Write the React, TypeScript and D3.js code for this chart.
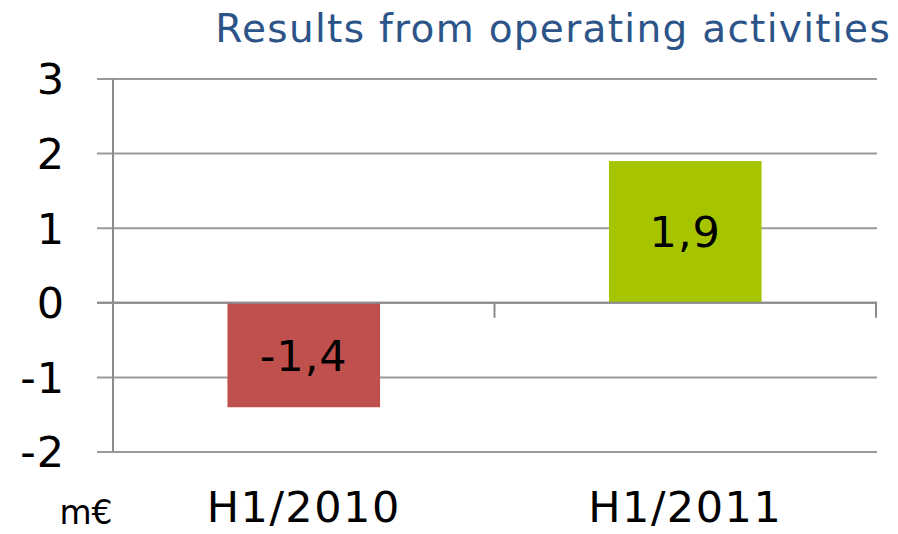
import React from "react";
import * as d3 from "d3";

const categories = ["H1/2010", "H1/2011"];
const values = [-1.4, 1.9];
const valueLabels = ["-1,4", "1,9"];
const barColors = ["#C0504D", "#A6C400"];
const yTicks = [-2, -1, 0, 1, 2, 3];
const title = "Results from operating activities";
const unitLabel = "m€";

const W = 898;
const H = 534;
const FONT = "'DejaVu Sans', Verdana, sans-serif";

export default function App() {
  const left = 113;
  const right = 876;
  const top = 79;
  const bottom = 452;

  const y = d3.scaleLinear().domain([-2, 3]).range([bottom, top]);
  const x = d3
    .scaleBand<string>()
    .domain(categories)
    .range([left, right])
    .paddingInner(0.6)
    .paddingOuter(0.3);
  const step = x.step();
  const y0 = y(0);

  return (
    <svg
      width={W}
      height={H}
      style={{ position: "absolute", left: 0, top: 0, background: "#fff" }}
    >
      <text
        x={891}
        y={42}
        textAnchor="end"
        fontFamily={FONT}
        fontSize={39}
        letterSpacing={1.3}
        fill="#2C5488"
      >
        {title}
      </text>

      {yTicks.map((t) => (
        <line
          key={"g" + t}
          x1={97}
          x2={877}
          y1={y(t)}
          y2={y(t)}
          stroke="#9a9a9a"
          strokeWidth={2}
        />
      ))}

      {categories.map((c, i) => {
        const v = values[i];
        const bx = x(c) as number;
        const by = Math.min(y(v), y0);
        const bh = Math.abs(y(v) - y0);
        return (
          <g key={c}>
            <rect x={bx} y={by} width={x.bandwidth()} height={bh} fill={barColors[i]} />
            <text
              x={bx + x.bandwidth() / 2}
              y={by + bh / 2}
              dy="0.36em"
              textAnchor="middle"
              fontFamily={FONT}
              fontSize={43}
              letterSpacing={1}
              fill="#000"
            >
              {valueLabels[i]}
            </text>
          </g>
        );
      })}

      <line x1={left} x2={left} y1={top} y2={bottom} stroke="#8c8c8c" strokeWidth={2} />
      <line x1={97} x2={877} y1={y0} y2={y0} stroke="#8c8c8c" strokeWidth={2} />
      {[0, 1, 2].map((k) => {
        const tx = left + step * k;
        return (
          <line
            key={"t" + k}
            x1={tx}
            x2={tx}
            y1={y0}
            y2={y0 + 15}
            stroke="#8c8c8c"
            strokeWidth={2}
          />
        );
      })}

      {yTicks.map((t) => (
        <text
          key={"l" + t}
          x={65}
          y={y(t)}
          dy="0.36em"
          textAnchor="end"
          fontFamily={FONT}
          fontSize={43}
          letterSpacing={1}
          fill="#000"
        >
          {t}
        </text>
      ))}

      {categories.map((c) => (
        <text
          key={"c" + c}
          x={(x(c) as number) + x.bandwidth() / 2}
          y={522}
          textAnchor="middle"
          fontFamily={FONT}
          fontSize={43}
          letterSpacing={1.5}
          fill="#000"
        >
          {c}
        </text>
      ))}

      <text x={86} y={524} textAnchor="middle" fontFamily={FONT} fontSize={33} fill="#000">
        {unitLabel}
      </text>
    </svg>
  );
}
